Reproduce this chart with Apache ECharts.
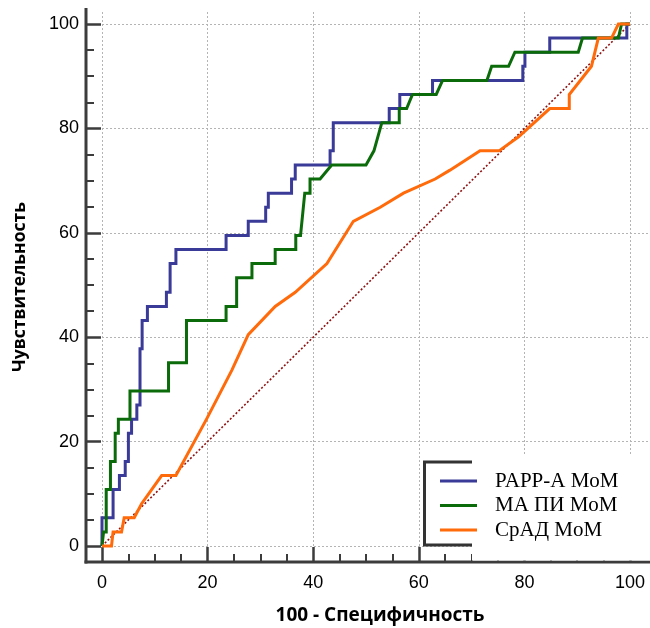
<!DOCTYPE html>
<html>
<head>
<meta charset="utf-8">
<script src="https://cdn.jsdelivr.net/npm/echarts@6/dist/echarts.min.js"></script>
<style>
  html, body { margin: 0; padding: 0; background: #fff; }
  #chart { width: 650px; height: 628px; }
</style>
</head>
<body>
<div id="chart"></div>
<script>
// ROC curves: sensitivity vs (100 - specificity), in percent
const seriesNames = ['PAPP-A MoM', 'МА ПИ MoM', 'СрАД MoM'];
const seriesColors = ['#3a3a98', '#0b6b0b', '#ff6a0a'];
const majorTicks = [0, 20, 40, 60, 80, 100];
const minorTicks = [5, 10, 15, 25, 30, 35, 45, 50, 55, 65, 70, 75, 85, 90, 95];

const pappX = [0, 0, 2.1, 2.1, 3.3, 3.3, 4.4, 4.4, 5.0, 5.0, 5.6, 5.6, 6.6, 6.6, 7.2, 7.2, 7.6, 7.6, 8.6, 8.6,
  12.2, 12.2, 12.9, 12.9, 14.0, 14.0, 23.5, 23.5, 27.7, 27.7, 31.0, 31.0, 31.5, 31.5, 35.9, 35.9, 36.6, 36.6,
  43.2, 43.2, 43.8, 43.8, 54.4, 54.4, 56.4, 56.4, 62.6, 62.6, 79.7, 79.7, 80.1, 80.1, 84.8, 84.8, 99.4, 99.4, 100];
const pappY = [0, 5.4, 5.4, 10.8, 10.8, 13.5, 13.5, 16.2, 16.2, 21.6, 21.6, 24.3, 24.3, 27.0, 27.0, 37.8, 37.8, 43.2, 43.2, 45.9,
  45.9, 48.6, 48.6, 54.1, 54.1, 56.8, 56.8, 59.5, 59.5, 62.2, 62.2, 64.9, 64.9, 67.6, 67.6, 70.3, 70.3, 73.0,
  73.0, 75.7, 75.7, 81.1, 81.1, 83.8, 83.8, 86.5, 86.5, 89.2, 89.2, 91.9, 91.9, 94.6, 94.6, 97.3, 97.3, 100, 100];

const maX = [0, 0.3, 0.8, 0.8, 1.6, 1.6, 2.5, 2.5, 3.1, 3.1, 5.3, 5.3, 12.6, 12.6, 16.0, 16.0, 23.5, 23.5,
  25.5, 25.5, 28.4, 28.4, 32.8, 32.8, 36.7, 36.7, 37.6, 38.4, 39.4, 39.4, 41.3, 43.5, 50.0, 51.5, 53.0,
  56.3, 56.3, 57.7, 58.8, 63.3, 64.5, 72.9, 73.8, 77.0, 78.2, 90.2, 91.0, 97.8, 98.4, 100];
const maY = [0, 2.7, 2.7, 10.8, 10.8, 16.2, 16.2, 21.6, 21.6, 24.3, 24.3, 29.7, 29.7, 35.1, 35.1, 43.2, 43.2, 45.9,
  45.9, 51.4, 51.4, 54.1, 54.1, 56.8, 56.8, 59.5, 59.5, 67.6, 67.6, 70.3, 70.3, 73.0, 73.0, 75.7, 81.1,
  81.1, 83.8, 83.8, 86.5, 86.5, 89.2, 89.2, 91.9, 91.9, 94.6, 94.6, 97.3, 97.3, 100, 100];

const sradX = [0, 1.8, 2.1, 3.7, 4.2, 6.1, 7.5, 11.3, 14.0, 19.8, 24.6, 27.7, 32.8, 36.6, 42.6, 47.6, 52.7,
  57.1, 63.1, 65.9, 71.6, 75.2, 78.9, 84.8, 88.5, 88.5, 92.7, 94.0, 96.5, 97.8, 100];
const sradY = [0, 0, 2.7, 2.7, 5.4, 5.4, 8.1, 13.5, 13.5, 24.3, 33.7, 40.5, 45.9, 48.6, 54.1, 62.2, 64.9,
  67.6, 70.3, 72.0, 75.7, 75.7, 78.4, 83.8, 83.8, 86.5, 91.9, 97.3, 97.3, 100, 100];

const diagX = [0, 100];
const diagY = [0, 100];

const zip = (xs, ys) => xs.map((x, i) => [x, ys[i]]);

const axisColor = '#3c3c3c';
const gridLineStyle = { color: '#b4b4b4', width: 1, type: [2, 2] };
const labelFont = { color: '#000', fontFamily: 'Liberation Sans', fontSize: 18 };

// The axes sit 16px outside the 0..100 plot area, so the axis grids start slightly below zero.
const X_MIN = -3.03;
const Y_MIN = -3.065;

const chart = echarts.init(document.getElementById('chart'), null, { renderer: 'canvas' });

const hiddenParts = { axisLine: { show: false, onZero: false }, axisTick: { show: false }, axisLabel: { show: false }, splitLine: { show: false } };

const tickAxis = (dim, gridIndex, values, len, width, withLabels, margin) => ({
  gridIndex, type: 'value', min: dim === 'x' ? X_MIN : Y_MIN, max: 100,
  position: dim === 'x' ? 'bottom' : 'left',
  axisLine: { show: false, onZero: false },
  axisTick: { show: true, inside: true, length: len, customValues: values,
    lineStyle: { color: axisColor, width } },
  axisLabel: withLabels
    ? Object.assign({ show: true, margin, customValues: majorTicks, showMinLabel: true, showMaxLabel: true }, labelFont)
    : { show: false },
  splitLine: { show: false }
});

const lineSeries = (name, xs, ys, color) => ({
  name, type: 'line', xAxisIndex: 1, yAxisIndex: 1,
  data: zip(xs, ys), showSymbol: false, symbol: 'none', clip: false,
  lineStyle: { color, width: 3, join: 'miter', cap: 'butt' },
  itemStyle: { color }, emphasis: { disabled: true }, z: 3
});

const axisGrid = { left: 86, top: 24, width: 544, height: 538 };

chart.setOption({
  animation: false,
  backgroundColor: '#fff',
  grid: [
    { left: 102, right: 0, top: 12, bottom: 82 },
    Object.assign({}, axisGrid),
    Object.assign({}, axisGrid)
  ],
  xAxis: [
    Object.assign({ gridIndex: 0, type: 'value', min: 0, max: 103.8, interval: 20 }, hiddenParts,
      { splitLine: { show: true, showMaxLine: false, lineStyle: gridLineStyle } }),
    tickAxis('x', 1, majorTicks, 15, 2.5, true, 12),
    tickAxis('x', 2, minorTicks, 8, 2, false)
  ],
  yAxis: [
    Object.assign({ gridIndex: 0, type: 'value', min: 0, max: 102.3, interval: 20 }, hiddenParts,
      { splitLine: { show: true, showMaxLine: false, lineStyle: gridLineStyle } }),
    tickAxis('y', 1, majorTicks, 15, 2.5, true, 7),
    tickAxis('y', 2, minorTicks, 8, 2, false)
  ],
  legend: {
    data: seriesNames,
    orient: 'vertical',
    left: 435, top: 464,
    icon: 'rect', itemWidth: 37, itemHeight: 3, itemGap: 0.5,
    selectedMode: false, z: 20,
    textStyle: { fontFamily: 'Liberation Serif', fontSize: 21, lineHeight: 24, color: '#000',
      padding: [0, 0, 0, 13] }
  },
  series: [
    { name: 'diag', type: 'line', xAxisIndex: 1, yAxisIndex: 1, data: zip(diagX, diagY),
      symbol: 'none', clip: false, silent: true, z: 2,
      lineStyle: { color: '#8f1414', width: 1.6, type: [2, 2] } },
    lineSeries(seriesNames[0], pappX, pappY, seriesColors[0]),
    lineSeries(seriesNames[1], maX, maY, seriesColors[1]),
    lineSeries(seriesNames[2], sradX, sradY, seriesColors[2])
  ],
  graphic: [
    // axis lines (they reach past the origin into the corner)
    { type: 'line', z: 5, shape: { x1: 86, y1: 8, x2: 86, y2: 563.5 },
      style: { stroke: axisColor, lineWidth: 3 } },
    { type: 'line', z: 5, shape: { x1: 84.5, y1: 562, x2: 650, y2: 562 },
      style: { stroke: axisColor, lineWidth: 3 } },
    // legend panel
    { type: 'rect', z: 10, shape: { x: 472, y: 455, width: 178, height: 105.5 },
      style: { fill: '#fff' } },
    { type: 'polyline', z: 11, shape: { points: [[472, 462], [424.5, 462], [424.5, 545], [472, 545]] },
      style: { stroke: '#333', lineWidth: 3, fill: null } },
    // axis titles
    { type: 'text', z: 5, x: 380, y: 616,
      style: { text: '100 - Специфичность', font: 'bold 19px "Open Sans"', fill: '#000',
        align: 'center', verticalAlign: 'middle' } },
    { type: 'text', z: 5, x: 20, y: 287, rotation: Math.PI / 2,
      style: { text: 'Чувствительность', font: 'bold 17.5px "Open Sans"', fill: '#000',
        align: 'center', verticalAlign: 'middle' } }
  ]
});
</script>
</body>
</html>
